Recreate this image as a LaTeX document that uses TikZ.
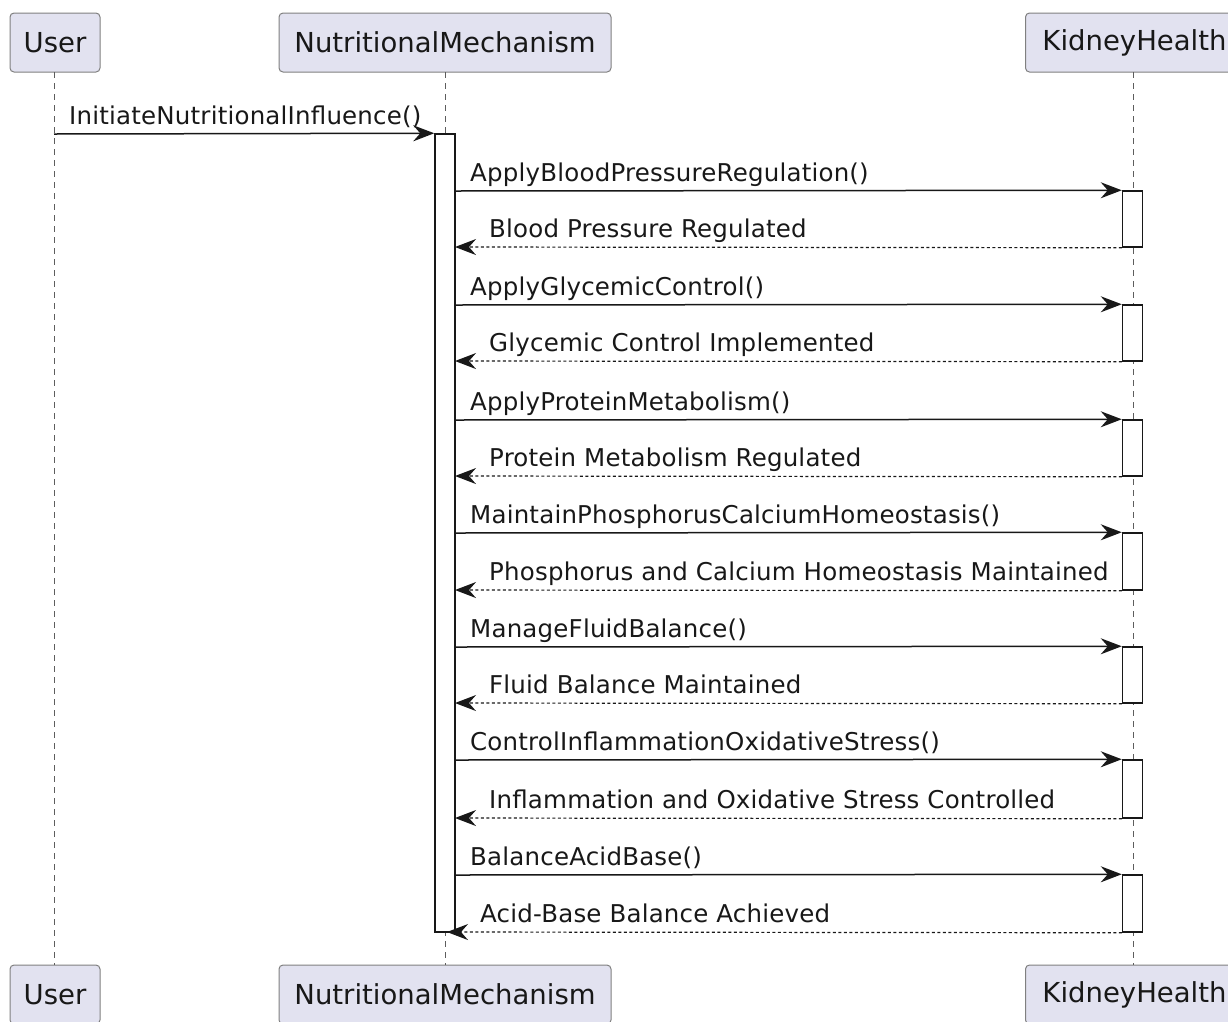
\documentclass[tikz,border=0pt]{standalone}
\usepackage{fontspec}
\setmainfont{DejaVu Sans}
\newfontfamily\lblfont[LetterSpace=0.8]{DejaVu Sans}
\usetikzlibrary{arrows.meta}
\definecolor{pfill}{HTML}{E2E2F0}
\definecolor{ink}{HTML}{181818}
\begin{document}
\begin{tikzpicture}[x=1pt,y=-1pt,
  part/.style={draw=ink!55, line width=1pt, fill=pfill, rounded corners=4pt, text=ink,
    font=\fontsize{27.5}{30}\selectfont, inner sep=0pt, minimum height=59pt},
  life/.style={draw=ink!70, line width=1pt, dash pattern=on 6pt off 5pt},
  actbar/.style={draw=ink, line width=1.5pt, fill=white, minimum width=20pt, inner sep=0pt},
  msg/.style={draw=ink, line width=1.5pt, -{Stealth[length=21pt,width=16pt,inset=7pt]}},
  ret/.style={draw=ink, line width=1.2pt, dash pattern=on 3pt off 2.5pt, -{Stealth[length=21pt,width=16pt,inset=7pt]}},
  lbl/.style={text=ink, font=\lblfont\fontsize{24.5}{28}\selectfont, inner sep=0pt, anchor=base west}]
\useasboundingbox (0,0) rectangle (1228,1021);
\clip (0,0) rectangle (1228,1021);
% participants
\node[part, minimum width=90pt] (user) at (55,42.5) {User};
\node[part, minimum width=332pt] (nm) at (445,42.5) {NutritionalMechanism};
\node[part, minimum width=218pt, anchor=west] (kh) at (1025,42.5) {KidneyHealth};
\node[part, minimum width=90pt] (userb) at (55,994.5) {User};
\node[part, minimum width=332pt] (nmb) at (445,994.5) {NutritionalMechanism};
\node[part, minimum width=218pt, anchor=west] (khb) at (1025,994.5) {KidneyHealth};
% lifelines
\coordinate (ul1) at (54,72); \coordinate (ul2) at (54,965);
\coordinate (nl1) at (445,72); \coordinate (nl2) at (445,965);
\coordinate (kl1) at (1133,72); \coordinate (kl2) at (1133,965);
\draw[life] (ul1) -- (ul2);
\draw[life] (nl1) -- (nl2);
\draw[life] (kl1) -- (kl2);
% activation of NutritionalMechanism
\node[actbar, minimum height=798pt] (nmact) at (445,533) {};
% first call
\coordinate (ustart) at (54,134);
\draw[msg] (ustart) -- (nmact.north west);
\node[lbl] (l0) at (69,124) {InitiateNutritionalInfluence()};
% calls and returns
\foreach \i/\yc/\yr/\lc/\lr in {
  1/191/247/{ApplyBloodPressureRegulation()}/{Blood Pressure Regulated},
  2/305/361/{ApplyGlycemicControl()}/{Glycemic Control Implemented},
  3/420/476/{ApplyProteinMetabolism()}/{Protein Metabolism Regulated},
  4/533/590/{MaintainPhosphorusCalciumHomeostasis()}/{Phosphorus and Calcium Homeostasis Maintained},
  5/647/703/{ManageFluidBalance()}/{Fluid Balance Maintained},
  6/760/818/{ControlInflammationOxidativeStress()}/{Inflammation and Oxidative Stress Controlled}}{
  \node[actbar, minimum height={\yr-\yc}] (kh\i) at (1132.5,{(\yc+\yr)/2}) {};
  \coordinate (cs\i) at (455,\yc);
  \coordinate (re\i) at (455,\yr);
  \draw[msg] (cs\i) -- (kh\i.north west);
  \draw[ret] (kh\i.south west) -- (re\i);
  \node[lbl] (lc\i) at (470,\yc-10) {\lc};
  \node[lbl] (lr\i) at (489,\yr-10) {\lr};
}
% last call
\node[actbar, minimum height=57pt] (kh7) at (1132.5,903.5) {};
\coordinate (cs7) at (455,875);
\coordinate (re7) at (447,932);
\draw[msg] (cs7) -- (kh7.north west);
\draw[ret] (kh7.south west) -- (re7);
\node[lbl] (lc7) at (470,865) {BalanceAcidBase()};
\node[lbl] (lr7) at (480,922) {Acid-Base Balance Achieved};
\end{tikzpicture}
\end{document}
